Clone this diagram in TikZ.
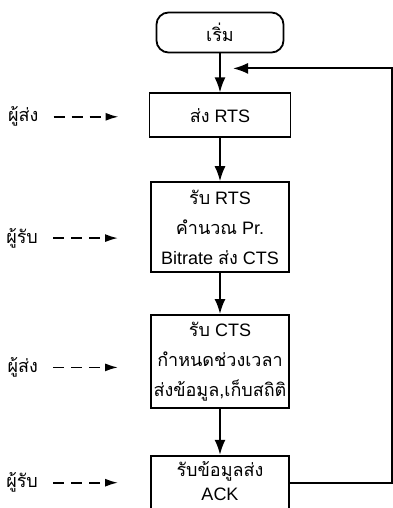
\documentclass[tikz,border=0pt]{standalone}
\usepackage{fontspec}
\setmainfont{Liberation Sans}
\newfontfamily\thai[Script=Thai]{Loma}
\newcommand{\thtxt}[1]{{\thai #1}}
\usetikzlibrary{arrows.meta,positioning}

\begin{document}
\begin{tikzpicture}[
  box/.style={draw,line width=1.8pt,align=center,font=\fontsize{18}{30}\selectfont,
              minimum width=138pt,minimum height=90pt,inner xsep=1pt,inner ysep=1pt},
  role/.style={font=\fontsize{18}{20}\selectfont,inner sep=0pt},
  arr/.style={-{Latex[length=15pt,width=11pt]},line width=1.8pt},
  darr/.style={-{Latex[length=13pt,width=8pt]},line width=1.8pt,
               dash pattern=on 11pt off 7pt,shorten <=15pt}
]
\useasboundingbox (-220pt,32.5pt) rectangle (173pt,-475.5pt);
\node[box,rounded corners=12pt,minimum width=127pt,minimum height=40pt] (start) {\thtxt{เริ่ม}};
\node[box,minimum width=141pt,minimum height=44pt,below=39pt of start] (sendrts) {\thtxt{ส่ง} RTS};
\node[box,below=43pt of sendrts] (recvrts) {\thtxt{รับ} RTS\\\thtxt{คำนวณ} Pr.\\Bitrate \thtxt{ส่ง} CTS};
\node[box,minimum height=93pt,below=41pt of recvrts] (recvcts) {\thtxt{รับ} CTS\\\thtxt{กำหนดช่วงเวลา}\\\thtxt{ส่งข้อมูล},\thtxt{เก็บสถิติ}};
\node[box,minimum height=54pt,font=\fontsize{18}{24}\selectfont,below=46pt of recvcts] (recvdata) {\thtxt{รับข้อมูลส่ง}\\ACK\\[-20pt]\mbox{}};
\draw[arr] (start) -- (sendrts);
\draw[arr] (sendrts) -- (recvrts);
\draw[arr] (recvrts) -- (recvcts);
\draw[arr] (recvcts) -- (recvdata);
% loop back to the top
\coordinate[below=15pt of start.south,xshift=13pt] (back);
\coordinate (edge) at (172pt,-200pt);
\draw[arr] (recvdata.east) -| (edge) |- (back);
% who does each step
\coordinate[left=30pt of sendrts.west,yshift=-1.5pt] (in1);
\coordinate[left=32pt of recvrts.west,yshift=-11pt] (in2);
\coordinate[left=32pt of recvcts.west,yshift=-6pt] (in3);
\coordinate[left=32pt of recvdata.west] (in4);
\node[role,left=80pt of in1] (sender1) {\thtxt{ผู้ส่ง}};
\node[role,left=80pt of in2] (receiver1) {\thtxt{ผู้รับ}};
\node[role,left=80pt of in3] (sender2) {\thtxt{ผู้ส่ง}};
\node[role,left=80pt of in4] (receiver2) {\thtxt{ผู้รับ}};
\draw[darr] (sender1) -- (in1);
\draw[darr] (receiver1) -- (in2);
\draw[darr] (sender2) -- (in3);
\draw[darr] (receiver2) -- (in4);
\end{tikzpicture}
\end{document}
